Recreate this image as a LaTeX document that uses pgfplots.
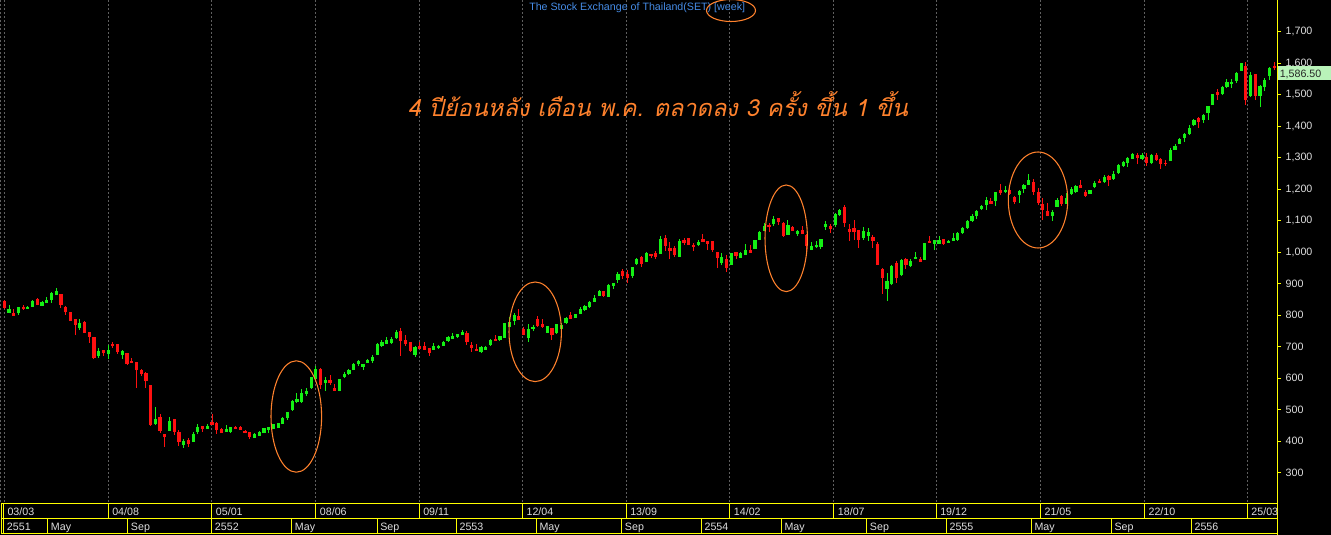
\documentclass[border=0pt]{standalone}
\usepackage{pgfplots}
\pgfplotsset{compat=1.18}
\usepackage{pgfplotstable}
\usepackage{graphicx}
\usepackage{fontspec}
\setmainfont{Liberation Sans}
\newfontfamily\thaifont[Script=Thai,FakeSlant=0.22]{Loma}
\definecolor{upg}{RGB}{20,240,20}
\definecolor{dnr}{RGB}{255,16,16}
\definecolor{ylw}{RGB}{255,255,0}
\definecolor{org}{RGB}{255,130,45}
\definecolor{ttl}{RGB}{70,140,230}
\definecolor{lbl}{RGB}{222,222,222}
\definecolor{grd}{RGB}{95,95,95}
\definecolor{pbox}{RGB}{185,243,185}

\pgfplotstableread{
x o h l c
1 808 833 806 820
3 806 827 801 826
5 820 829 820 826
6 827 848 826 845
8 830 846 829 842
9 840 857 839 848
10 848 874 840 871
11 864 887 864 877
16 760 788 753 776
20 671 695 664 687
22 677 705 662 690
25 674 690 661 685
32 455 509 452 471
35 434 477 434 464
38 388 406 379 401
40 398 430 398 423
41 430 455 423 445
43 439 455 439 450
47 430 452 430 439
48 430 445 426 445
53 410 426 410 423
54 417 433 417 430
55 426 442 426 442
56 436 445 426 445
57 439 455 439 455
58 442 458 442 458
59 455 477 455 474
60 474 493 468 493
61 499 531 496 528
62 525 553 522 534
63 525 566 522 553
64 550 569 544 560
65 569 604 566 604
66 598 639 595 630
68 586 605 561 595
71 561 598 558 598
72 604 620 601 614
73 614 630 611 626
74 626 649 626 645
75 645 658 639 655
76 636 645 626 645
77 649 661 649 658
78 655 674 649 668
79 674 712 674 709
80 703 722 699 715
81 709 731 709 722
82 712 731 709 725
83 728 753 725 747
87 674 703 668 699
91 690 712 690 703
92 696 707 693 704
93 703 718 703 715
94 718 734 715 731
95 725 744 725 734
96 731 741 728 741
97 738 753 738 747
101 684 703 680 699
102 690 703 690 699
103 706 725 703 722
105 722 734 718 734
106 728 776 728 776
107 763 795 763 779
108 782 807 769 801
111 728 772 715 757
112 757 769 750 763
115 744 766 744 766
117 744 772 741 772
118 757 776 757 769
119 776 795 772 791
121 791 804 791 804
122 804 826 804 820
123 817 833 814 830
124 826 845 823 842
125 842 865 842 855
126 861 880 861 877
128 858 899 858 896
129 893 903 884 903
130 912 937 903 931
133 925 953 918 953
134 963 982 960 979
136 969 1001 969 998
139 995 1052 995 1042
143 985 1042 985 1036
147 1023 1039 1020 1033
152 966 998 960 985
154 960 998 960 998
156 982 1001 982 998
157 991 1026 991 1007
159 1010 1039 1010 1039
160 1039 1068 1039 1064
161 1068 1093 1068 1083
163 1090 1115 1083 1106
166 1055 1103 1055 1087
168 1058 1071 1052 1068
171 1007 1033 1007 1020
172 1017 1036 1014 1023
173 1017 1042 1010 1042
174 1080 1099 1071 1090
176 1087 1125 1080 1122
177 1118 1137 1115 1134
182 1045 1080 1039 1068
183 1052 1077 1036 1064
187 884 934 845 909
188 899 960 896 957
190 928 979 925 976
192 957 979 953 972
193 979 1001 979 985
195 976 1030 976 1030
197 1026 1039 1007 1039
198 1026 1052 1026 1039
200 1030 1039 1030 1036
201 1036 1061 1036 1045
202 1039 1064 1036 1061
203 1061 1080 1058 1077
204 1077 1103 1074 1100
205 1100 1122 1096 1115
206 1115 1134 1106 1131
207 1138 1150 1134 1147
208 1150 1176 1134 1166
210 1163 1192 1147 1192
212 1192 1211 1188 1198
215 1182 1198 1157 1195
216 1201 1217 1188 1214
217 1214 1249 1214 1230
222 1115 1134 1100 1128
223 1144 1172 1144 1166
225 1153 1188 1153 1172
226 1185 1207 1182 1201
227 1192 1214 1188 1211
230 1185 1198 1185 1198
231 1207 1226 1204 1220
233 1223 1246 1220 1239
235 1233 1258 1230 1249
236 1252 1280 1249 1277
237 1274 1290 1271 1287
238 1284 1303 1271 1300
239 1296 1315 1296 1312
241 1296 1315 1293 1309
243 1284 1312 1280 1309
247 1290 1331 1290 1325
248 1325 1344 1325 1338
249 1344 1363 1344 1360
250 1363 1379 1350 1376
251 1376 1404 1373 1395
252 1404 1423 1401 1420
254 1420 1439 1411 1436
255 1442 1465 1420 1465
256 1468 1503 1468 1503
258 1503 1528 1499 1525
259 1525 1550 1522 1541
260 1534 1550 1522 1541
261 1544 1572 1538 1569
262 1576 1601 1576 1601
264 1497 1572 1493 1563
266 1496 1531 1461 1528
267 1525 1553 1512 1547
268 1560 1588 1547 1585
}\upcandles

\pgfplotstableread{
x o h l c
0 845 850 819 824
2 807 819 799 799
4 826 833 817 820
7 851 854 832 833
12 868 868 824 833
13 826 829 802 810
14 810 810 782 782
15 787 787 737 769
17 780 782 744 744
18 747 747 713 731
19 731 731 661 663
21 690 690 671 679
23 709 715 697 701
24 708 709 678 683
26 680 680 642 645
27 656 663 649 649
28 652 652 570 626
29 626 630 607 614
30 617 620 570 591
31 579 579 448 452
33 477 487 427 433
34 423 423 382 412
36 471 471 420 430
37 430 436 385 398
39 404 411 382 391
42 448 448 430 439
44 461 487 452 452
45 458 461 423 436
46 439 442 426 426
49 445 448 439 439
50 445 448 436 436
51 433 436 426 426
52 430 430 407 414
67 628 633 566 580
69 595 611 579 584
70 569 582 561 561
84 750 760 671 718
85 722 738 703 709
86 715 715 684 687
88 703 716 693 693
89 703 715 690 690
90 696 696 671 680
98 744 750 706 715
99 706 715 684 696
100 693 709 687 687
104 725 738 718 718
109 798 820 785 785
110 757 763 738 738
113 788 798 763 766
114 772 788 760 763
116 760 760 722 738
120 801 811 788 788
127 877 877 858 861
131 941 947 915 925
132 931 944 903 918
135 985 988 953 963
137 995 995 982 988
138 998 1004 979 985
140 1045 1055 1004 1020
141 1014 1033 979 1004
142 1014 1020 985 991
144 1039 1045 1023 1030
145 1045 1045 1023 1023
146 1023 1030 1004 1017
148 1042 1058 1033 1033
149 1036 1036 1007 1026
150 1036 1036 1001 1007
151 1001 1001 950 982
153 979 991 938 950
155 1001 1001 979 988
158 1007 1023 998 998
162 1087 1093 1064 1080
164 1109 1109 1087 1096
165 1093 1096 1049 1052
167 1080 1083 1068 1068
169 1071 1083 1058 1058
170 1055 1058 1001 1020
175 1083 1090 1061 1074
178 1144 1150 1080 1093
179 1074 1090 1036 1064
180 1077 1103 1039 1064
181 1071 1071 1014 1039
184 1049 1055 1014 1036
185 1026 1033 960 960
186 947 950 868 918
189 966 972 903 918
191 979 982 947 960
194 979 985 969 969
196 1036 1052 1030 1030
199 1042 1042 1023 1026
209 1163 1172 1153 1153
211 1198 1217 1182 1188
213 1198 1214 1182 1185
214 1176 1179 1153 1160
218 1223 1233 1182 1192
219 1192 1204 1150 1157
220 1153 1172 1103 1134
221 1131 1157 1115 1115
224 1179 1182 1147 1153
228 1214 1230 1204 1204
229 1192 1198 1176 1179
232 1226 1233 1220 1220
234 1242 1246 1211 1230
240 1309 1315 1280 1300
242 1303 1315 1274 1284
244 1309 1315 1290 1293
245 1296 1300 1265 1280
246 1284 1293 1274 1280
253 1426 1430 1395 1414
257 1509 1519 1484 1499
263 1592 1604 1468 1482
265 1566 1566 1484 1497
269 1592 1604 1579 1586.5
}\downcandles

\begin{document}
\begin{tikzpicture}
\path[use as bounding box, fill=black] (0,0) rectangle (998.25pt,401.25pt);
\begin{scope}[shift={(0pt,401.25pt)}, x=0.75pt, y=-0.75pt]
  \foreach \gx in {0.5,4.3,108.3,211.7,315.5,419,522.3,626,729.7,833.7,936,1040.3,1144.3,1247.7}
    \draw[grd, line width=0.75pt, dash pattern=on 1.5pt off 1.5pt] (\gx,0) -- (\gx,504);
\end{scope}
\begin{axis}[
  at={(0pt,28.5pt)}, anchor=south west,
  scale only axis, width=957.75pt, height=372.75pt,
  xmin=-0.91, xmax=269.6, ymin=223, ymax=1801,
  axis x line=none, axis y line*=right,
  y axis line style={draw=ylw, line width=0.75pt},
  ytick={300,400,...,1700},
  tick align=outside, major tick length=3pt,
  ytick style={draw=ylw, line width=0.75pt},
  yticklabel style={font=\fontsize{8}{9.6}\selectfont, text=lbl},
  /pgf/number format/1000 sep={,},
  /pgf/number format/assume math mode=true,
]
% wicks
\addplot[forget plot, mark=none, draw=upg, line width=0.75pt,
  quiver={u=0, v=\thisrow{h}-\thisrow{l}}]
  table[x=x, y=l] {\upcandles};
\addplot[forget plot, mark=none, draw=dnr, line width=0.75pt,
  quiver={u=0, v=\thisrow{h}-\thisrow{l}}]
  table[x=x, y=l] {\downcandles};
% bodies
\addplot[forget plot, mark=none, draw=upg, line width=2.4pt,
  quiver={u=0, v={max(\thisrow{c}-\thisrow{o},3.2)}}]
  table[x=x, y=o] {\upcandles};
\addplot[forget plot, mark=none, draw=dnr, line width=2.4pt,
  quiver={u=0, v={max(\thisrow{o}-\thisrow{c},3.2)}}]
  table[x=x, y=c] {\downcandles};
\end{axis}
\begin{scope}[shift={(0pt,401.25pt)}, x=0.75pt, y=-0.75pt]
  \draw[ylw, line width=0.75pt] (1277,0) -- (1277,535);
  \draw[ylw, line width=0.75pt] (1,504) -- (1277,504) (1,519) -- (1277,519) (1,534) -- (1277,534);
  \foreach \bx in {1,3.3,108,211.7,315.7,419,522.3,626,729.7,833.7,936,1040.3,1144.3,1247.7}
    \draw[ylw, line width=0.75pt] (\bx,504) -- (\bx,519);
  \foreach \bx in {1,3.3,47.7,127.7,211.7,291.7,377,456.3,536.3,621.7,701.3,781.3,866.7,946.3,1031.3,1111.3,1191.3}
    \draw[ylw, line width=0.75pt] (\bx,519) -- (\bx,534);
  \begin{scope}[every node/.style={anchor=base west, inner sep=0pt, text=lbl, font=\fontsize{8}{9.6}\selectfont}]
    \node at (7.3,515.5) {03/03};
    \node at (112,515.5) {04/08};
    \node at (215.7,515.5) {05/01};
    \node at (319.7,515.5) {08/06};
    \node at (423,515.5) {09/11};
    \node at (526.3,515.5) {12/04};
    \node at (630,515.5) {13/09};
    \node at (733.7,515.5) {14/02};
    \node at (837.7,515.5) {18/07};
    \node at (940,515.5) {19/12};
    \node at (1044.3,515.5) {21/05};
    \node at (1148.3,515.5) {22/10};
    \node at (1251.2,515.5) {25/03};
    \node at (6.7,531) {2551};
    \node at (50.7,531) {May};
    \node at (130.7,531) {Sep};
    \node at (214.7,531) {2552};
    \node at (294.7,531) {May};
    \node at (380,531) {Sep};
    \node at (459.3,531) {2553};
    \node at (539.3,531) {May};
    \node at (624.7,531) {Sep};
    \node at (704.3,531) {2554};
    \node at (784.3,531) {May};
    \node at (869.7,531) {Sep};
    \node at (949.3,531) {2555};
    \node at (1034.3,531) {May};
    \node at (1114.3,531) {Sep};
    \node at (1194.3,531) {2556};
  \end{scope}
  \fill[pbox] (1278,66) rectangle (1331,80.5);
  \node[anchor=base west, inner sep=0pt, text=black!85, font=\fontsize{8}{9.6}\selectfont] at (1279.5,77.5) {1,586.50};
  \node[anchor=base west, inner sep=0pt, text=ttl, font=\fontsize{8}{9.6}\selectfont] at (529,11) {The Stock Exchange of Thailand(SET) [week]};
  \draw[org, line width=0.8pt] (731,10.5) ellipse [x radius=24.5, y radius=11];
  \draw[org, line width=0.8pt] (296.3,416.5) ellipse [x radius=25.3, y radius=55.7];
  \draw[org, line width=0.8pt] (535.2,331.8) ellipse [x radius=26.2, y radius=49.8];
  \draw[org, line width=0.8pt] (786.2,238.3) ellipse [x radius=21.2, y radius=53.3];
  \draw[org, line width=0.8pt] (1038,200) ellipse [x radius=29.7, y radius=48];
  \node[inner sep=0pt, text=org] at (658,104) {\resizebox{375pt}{!}{\thaifont\fontsize{18}{20}\selectfont 4 ปีย้อนหลัง เดือน พ.ค. ตลาดลง 3 ครั้ง ขึ้น 1 ขึ้น}};
\end{scope}
\end{tikzpicture}
\end{document}
